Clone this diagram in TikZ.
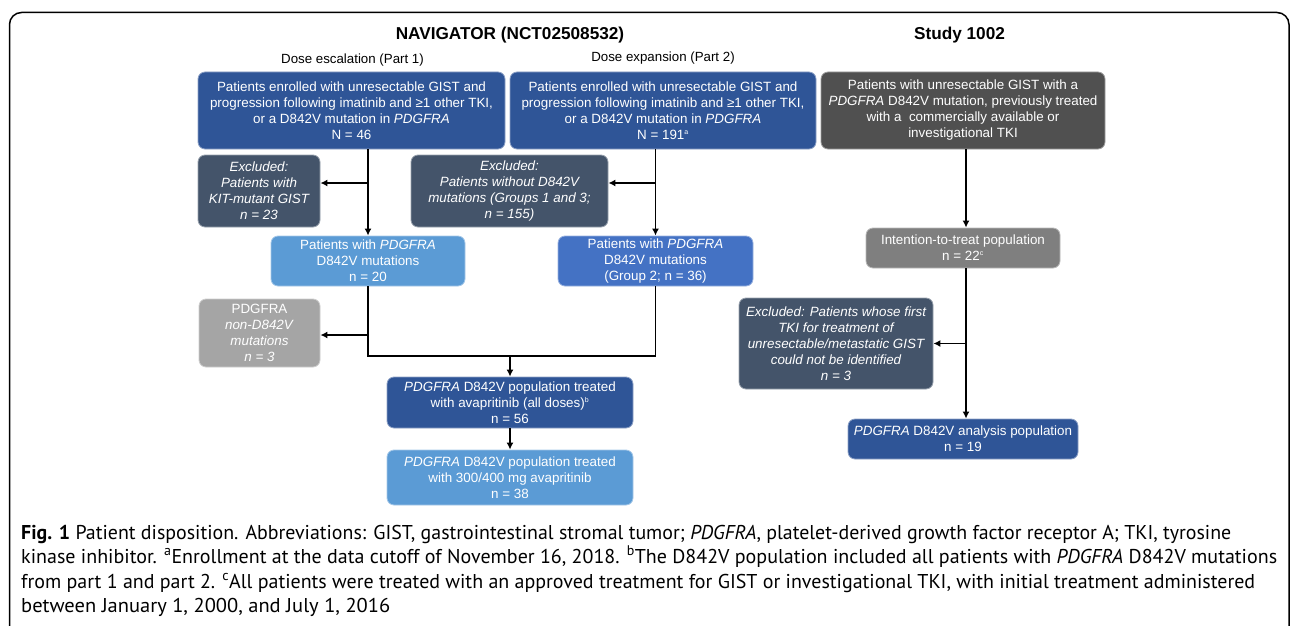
\documentclass[tikz,border=0pt]{standalone}
\usepackage{graphicx}
\usepackage{fontspec}
\setmainfont{Liberation Sans}
\newfontfamily\capfont{PT Sans}
\usetikzlibrary{arrows.meta}
\definecolor{dblue}{HTML}{2F5597}
\definecolor{mblue}{HTML}{4472C4}
\definecolor{lblue}{HTML}{5B9BD5}
\definecolor{slate}{HTML}{44546A}
\definecolor{dgray}{HTML}{505050}
\definecolor{mgray}{HTML}{7F7F7F}
\definecolor{lgray}{HTML}{A5A5A5}
\newcommand{\sps}[1]{\textsuperscript{\fontsize{7}{7}\selectfont #1}}
\newcommand{\capline}[2]{\resizebox{#1}{\height}{#2}}
\tikzset{
  box/.style={fill=#1, draw=#1!55!white, line width=0.8pt, rounded corners=7pt,
    text=white, align=center, inner sep=0pt,
    font=\fontsize{13.4}{16}\selectfont},
  ititle/.style={font=\fontsize{17.2}{20}\selectfont\bfseries, inner sep=0pt},
  sub/.style={font=\fontsize{13.3}{16}\selectfont, inner sep=0pt},
  captext/.style={font=\capfont\fontsize{20}{24}\selectfont, inner sep=0pt, anchor=base west},
  conn/.style={line width=1.7pt, draw=black},
  arr/.style={conn, -{Latex[length=7pt,width=7pt]}},
}
\begin{document}
\begin{tikzpicture}[x=1pt, y=-1pt]
\useasboundingbox (0,0) rectangle (1290,626);
\begin{scope}
\clip (0,0) rectangle (1290,626);
\draw[line width=1.5pt, rounded corners=12pt] (9.5,700) -- (9.5,12.5) -- (1289,12.5) -- (1289,700);
\end{scope}

% titles
\node[ititle] (tnav) at (510,35) {NAVIGATOR (NCT02508532)};
\node[ititle] (tstudy) at (959.5,35) {Study 1002};
\node[sub] (tesc) at (352.5,60) {Dose escalation (Part 1)};
\node[sub] (texp) at (663,58.5) {Dose expansion (Part 2)};

% boxes
\node[box=dblue, minimum width=307pt, minimum height=77pt] (a1) at (351.5,110.5)
  {Patients enrolled with unresectable GIST and\\progression following imatinib and ≥1 other TKI,\\or a D842V mutation in \textit{PDGFRA}\\N = 46};
\node[box=dblue, minimum width=306pt, minimum height=77pt] (a2) at (663,110.5)
  {Patients enrolled with unresectable GIST and\\progression following imatinib and ≥1 other TKI,\\or a D842V mutation in \textit{PDGFRA}\\N = 191\sps{a}};
\node[box=dgray, minimum width=284pt, minimum height=77pt] (s1) at (963,110.5)
  {Patients with unresectable GIST with a\\\textit{PDGFRA} D842V mutation, previously treated\\with a \ commercially available or\\investigational TKI};
\node[box=slate, minimum width=122pt, minimum height=72pt, font=\fontsize{13.4}{16}\selectfont\itshape] (e1) at (259,191)
  {Excluded:\\Patients with\\KIT-mutant GIST\\n = 23};
\node[box=slate, minimum width=197pt, minimum height=72pt, font=\fontsize{13.4}{16}\selectfont\itshape] (e2) at (509.5,191)
  {Excluded:\\Patients without D842V\\mutations (Groups 1 and 3;\\n = 155)};
\node[box=lblue, minimum width=194pt, minimum height=50pt] (p1) at (368,261)
  {Patients with \textit{PDGFRA}\\D842V mutations\\n = 20};
\node[box=mblue, minimum width=195pt, minimum height=50pt] (p2) at (655.5,261)
  {Patients with \textit{PDGFRA}\\D842V mutations\\(Group 2; n = 36)};
\node[box=lgray, minimum width=121pt, minimum height=68pt] (nd) at (259.5,333)
  {PDGFRA\\\textit{non-D842V}\\\textit{mutations}\\\textit{n = 3}};
\node[box=dblue, minimum width=246pt, minimum height=51pt] (q56) at (510,402.5)
  {\textit{PDGFRA} D842V population treated\\with avapritinib (all doses)\sps{b}\\n = 56};
\node[box=lblue, minimum width=246pt, minimum height=55pt] (q38) at (510,477.5)
  {\textit{PDGFRA} D842V population treated\\with 300/400 mg avapritinib\\n = 38};
\node[box=mgray, minimum width=194pt, minimum height=40pt] (itt) at (963,248)
  {Intention-to-treat population\\n = 22\sps{c}};
\node[box=slate, minimum width=194pt, minimum height=91pt, font=\fontsize{13.4}{16}\selectfont\itshape] (es) at (836,343.5)
  {Excluded: Patients whose first\\TKI for treatment of\\unresectable/metastatic GIST\\could not be identified\\n = 3};
\node[box=dblue, minimum width=230pt, minimum height=40pt] (q19) at (963,439)
  {\textit{PDGFRA} D842V analysis population\\n = 19};

% connectors NAVIGATOR
\coordinate (b1) at (368,183);
\coordinate (b2) at (655.5,183);
\coordinate (b3) at (368,335);
\coordinate (m1) at (368,356);
\coordinate (m2) at (655.5,356);
\coordinate (m0) at (510,356);
\draw[arr] (p1.north |- a1.south) -- (p1.north);
\draw[arr] (b1) -- (b1 -| e1.east);
\draw[arr] (p2.north |- a2.south) -- (p2.north);
\draw[arr] (b2) -- (b2 -| e2.east);
\draw[conn] (p1.south) -- (m1) -- (m2) -- (p2.south);
\draw[arr] (b3) -- (b3 -| nd.east);
\draw[arr] (m0) -- (q56.north);
\draw[arr] (q56.south) -- (q38.north);

% connectors Study 1002
\coordinate (c1) at (966,149);
\coordinate (c2) at (966,268);
\coordinate (c3) at (966,343.5);
\draw[arr] (c1) -- (c1 |- itt.north);
\draw[arr] (c2) -- (c2 |- q19.north);
\draw[arr] (c3) -- (es.east);

% caption
\node[captext] (l1) at (21,539) {\capline{1210pt}{\textbf{Fig. 1} Patient disposition. Abbreviations: GIST, gastrointestinal stromal tumor; \textit{PDGFRA}, platelet-derived growth factor receptor A; TKI, tyrosine}};
\node[captext] (l2) at (21,563.5) {\capline{1256pt}{kinase inhibitor. \textsuperscript{a}Enrollment at the data cutoff of November 16, 2018. \textsuperscript{b}The D842V population included all patients with \textit{PDGFRA} D842V mutations}};
\node[captext] (l3) at (21,588) {\capline{1234pt}{from part 1 and part 2. \textsuperscript{c}All patients were treated with an approved treatment for GIST or investigational TKI, with initial treatment administered}};
\node[captext] (l4) at (21,612.5) {\capline{369pt}{between January 1, 2000, and July 1, 2016}};
\end{tikzpicture}
\end{document}
